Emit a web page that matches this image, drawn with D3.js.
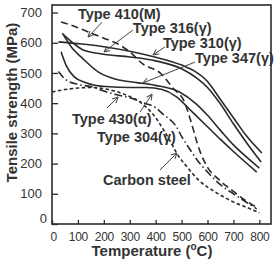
<!DOCTYPE html>
<html><head><meta charset="utf-8">
<script src="https://cdn.jsdelivr.net/npm/d3@7/dist/d3.min.js"></script>
<style>html,body{margin:0;padding:0;background:#fff;}svg{display:block;}</style>
</head><body><svg id="c" width="276" height="260"></svg>
<script>
// ---- data ----
const xTicks = [0,100,200,300,400,500,600,700,800];
const yTicks = [0,100,200,300,400,500,600,700];
const type310 = [[25,603],[100,597],[200,587],[300,572],[400,552],[500,526],[550,506],[600,472],[650,412],[700,352],[750,292],[810,235]];
const type316 = [[45,626],[80,600],[116,578],[200,562],[300,553],[400,540],[500,514],[560,482],[600,452],[650,397],[700,332],[750,270],[807,205]];
const type347 = [[40,632],[80,580],[116,550],[181,502],[247,479],[328,468],[400,459],[490,438],[556,398],[600,360],[650,310],[700,262],[750,222],[800,185]];
const type304 = [[35,570],[54,526],[85,488],[131,468],[208,455],[300,452],[363,452],[425,445],[479,422],[540,372],[600,322],[650,280],[700,240],[790,172]];
const type410 = [[35,669],[100,650],[150,632],[200,615],[250,598],[300,570],[350,530],[417,500],[467,450],[513,400],[532,351],[548,305],[560,268],[572,238],[602,185],[640,150],[700,108],[750,76],[790,55]];
const type430 = [[25,505],[50,480],[100,462],[150,455],[200,440],[250,428],[300,418],[350,402],[400,385],[430,362],[460,342],[480,322],[500,290],[530,250],[560,212],[600,172],[650,130],[700,100],[750,72],[790,50]];
const carbon  = [[0,437],[50,445],[100,450],[150,452],[200,448],[250,438],[300,422],[350,397],[400,352],[430,312],[455,276],[480,236],[520,190],[565,146],[630,106],[700,73],[760,52],[800,37]];

const series = [
  {name:"Type 310(γ)", data:type310, dash:null},
  {name:"Type 316(γ)", data:type316, dash:null},
  {name:"Type 347(γ)", data:type347, dash:null},
  {name:"Type 304(γ)", data:type304, dash:null},
  {name:"Type 410(M)", data:type410, dash:"7,4"},
  {name:"Type 430(α)", data:type430, dash:"8,3,1.5,3"},
  {name:"Carbon steel", data:carbon, dash:"3.5,2.5"}
];
// label anchors (data space) and arrows (data space)
const labels = [
  {t:"Type 410(M)", x:100, y:679},
  {t:"Type 316(γ)", x:312, y:632},
  {t:"Type 310(γ)", x:428, y:583},
  {t:"Type 347(γ)", x:552, y:533},
  {t:"Type 430(α)", x:77, y:331},
  {t:"Type 304(γ)", x:174, y:271},
  {t:"Carbon steel", x:197, y:129}
];
const arrows = [
  [[193,668],[139,619]],
  [[312,642],[201,570]],
  [[436,586],[390,560]],
  [[552,536],[351,467]],
  [[212,384],[255,420]],
  [[340,371],[386,430]],
  [[417,179],[482,235]]
];

// ---- chart ----
const svg = d3.select("#c");
const L=52, R=271, T=5, B=224;
const x = d3.scaleLinear().domain([0,845]).range([L,R]);
const y = d3.scaleLinear().domain([0,725]).range([B,T]);
const font = "'Liberation Sans', Arial, sans-serif";
const ink = "#2a2a2a";

const defs = svg.append("defs");
defs.append("marker").attr("id","ah").attr("viewBox","0 0 10 10").attr("refX",9).attr("refY",5)
  .attr("markerWidth",7).attr("markerHeight",7).attr("orient","auto")
  .append("path").attr("d","M1,1 L9,5 L1,9").attr("fill","none").attr("stroke","#444").attr("stroke-width",1.4);

// axes (inward ticks)
const yAxis = d3.axisLeft(y).tickValues(yTicks).tickSize(-6).tickPadding(10).tickFormat(d=>d);
const xAxis = d3.axisBottom(x).tickValues(xTicks).tickSize(-4).tickPadding(8).tickFormat(d=>d);
const gy = svg.append("g").attr("transform",`translate(${L},0)`).call(yAxis);
const gx = svg.append("g").attr("transform",`translate(0,${B})`).call(xAxis);
[gx,gy].forEach(g=>{
  g.select(".domain").remove();
  g.selectAll("line").attr("stroke",ink).attr("stroke-width",1.3);
  g.selectAll("text").attr("font-family",font).attr("font-size",13).attr("fill","#333");
});
gx.selectAll("text").attr("font-size",12).attr("letter-spacing","-0.3");
gy.selectAll(".tick").filter(d=>d===0).select("text").attr("dy","-0.1em").attr("x",-5);
gx.selectAll(".tick").filter(d=>d===0).select("text").attr("dx","0.1em");

// series
const line = d3.line().x(d=>x(d[0])).y(d=>y(d[1])).curve(d3.curveMonotoneX);
svg.append("g").selectAll("path").data(series).join("path")
  .attr("d",d=>line(d.data)).attr("fill","none").attr("stroke",ink)
  .attr("stroke-width",1.6).attr("stroke-dasharray",d=>d.dash);

// frame
svg.append("rect").attr("x",L).attr("y",T).attr("width",R-L).attr("height",B-T)
  .attr("fill","none").attr("stroke",ink).attr("stroke-width",1.6);

// arrows
svg.append("g").selectAll("line").data(arrows).join("line")
  .attr("x1",d=>x(d[0][0])).attr("y1",d=>y(d[0][1])).attr("x2",d=>x(d[1][0])).attr("y2",d=>y(d[1][1]))
  .attr("stroke","#444").attr("stroke-width",1).attr("marker-end","url(#ah)");

// labels
svg.append("g").selectAll("text").data(labels).join("text")
  .attr("x",d=>x(d.x)).attr("y",d=>y(d.y)).text(d=>d.t)
  .attr("font-family",font).attr("font-size",14.5).attr("font-weight","bold").attr("fill","#333");

// axis titles
svg.append("text").attr("transform",`translate(17,${(T+B)/2-12}) rotate(-90)`).attr("text-anchor","middle")
  .attr("font-family",font).attr("font-size",15).attr("font-weight","bold").attr("fill","#333")
  .text("Tensile strength (MPa)");
const xt = svg.append("text").attr("x",152).attr("y",256).attr("text-anchor","middle")
  .attr("font-family",font).attr("font-size",15).attr("font-weight","bold").attr("fill","#333");
xt.append("tspan").text("Temperature (");
xt.append("tspan").text("o").attr("font-size",10).attr("dy","-6");
xt.append("tspan").text("C)").attr("dy","6");
</script></body></html>
